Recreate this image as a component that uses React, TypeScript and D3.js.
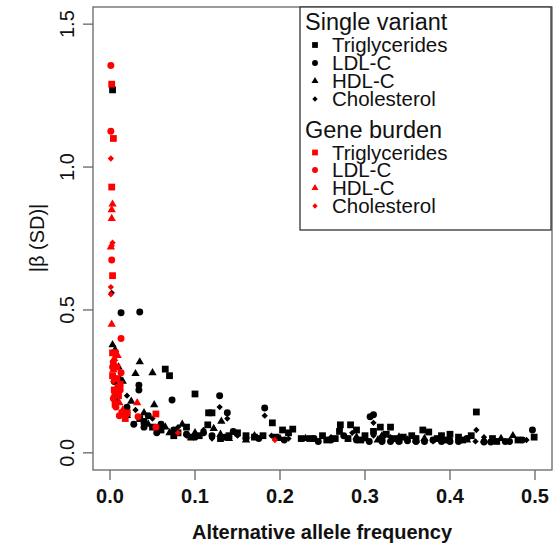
import React from "react";
import * as d3 from "d3";

// ---- data: [alternative allele frequency, |beta (SD)|] ----
const svTriglycerides: [number, number][] = [
  [0.003, 1.27], [0.065, 0.293], [0.07, 0.27], [0.1, 0.206], [0.116, 0.14], [0.12, 0.14],
  [0.115, 0.098], [0.191, 0.105], [0.203, 0.08], [0.215, 0.083], [0.271, 0.098], [0.283, 0.098],
  [0.318, 0.09], [0.33, 0.09], [0.368, 0.08], [0.375, 0.073], [0.431, 0.143], [0.499, 0.055],
  [0.04, 0.11], [0.06, 0.08], [0.08, 0.07], [0.09, 0.09], [0.14, 0.06], [0.15, 0.07],
  [0.17, 0.055], [0.25, 0.06], [0.28, 0.05], [0.3, 0.06], [0.32, 0.05], [0.34, 0.045],
  [0.36, 0.05], [0.39, 0.06], [0.41, 0.055], [0.45, 0.05], [0.48, 0.045], [0.27, 0.075],
  [0.29, 0.08], [0.225, 0.05], [0.006, 0.19], [0.02, 0.14], [0.035, 0.12], [0.18, 0.06],
  [0.21, 0.07], [0.31, 0.075], [0.325, 0.065], [0.335, 0.05], [0.4, 0.065], [0.105, 0.06],
  [0.255, 0.045], [0.265, 0.05], [0.295, 0.045], [0.345, 0.055], [0.355, 0.06], [0.385, 0.05],
  [0.395, 0.045], [0.415, 0.045], [0.425, 0.06], [0.455, 0.04], [0.13, 0.05], [0.16, 0.06],
  [0.195, 0.055], [0.235, 0.05], [0.05, 0.09], [0.075, 0.06], [0.095, 0.055],
];
const svLDL: [number, number][] = [
  [0.013, 0.49], [0.035, 0.493], [0.034, 0.237], [0.034, 0.22], [0.073, 0.185], [0.129, 0.2],
  [0.138, 0.14], [0.182, 0.157], [0.306, 0.126], [0.31, 0.133], [0.497, 0.08], [0.44, 0.038],
  [0.448, 0.038], [0.06, 0.1], [0.09, 0.065], [0.12, 0.06], [0.16, 0.05], [0.24, 0.05],
  [0.26, 0.045], [0.29, 0.045], [0.33, 0.04], [0.35, 0.042], [0.38, 0.045], [0.4, 0.04],
  [0.42, 0.05], [0.47, 0.04], [0.02, 0.16], [0.045, 0.13], [0.005, 0.25], [0.075, 0.08],
  [0.11, 0.07], [0.028, 0.1], [0.145, 0.075], [0.275, 0.06], [0.36, 0.04],
  [0.305, 0.04], [0.32, 0.04], [0.34, 0.04], [0.37, 0.04], [0.39, 0.04], [0.41, 0.04],
  [0.465, 0.04], [0.485, 0.045], [0.135, 0.055], [0.175, 0.05], [0.205, 0.045], [0.245, 0.04],
  [0.055, 0.07], [0.04, 0.09], [0.1, 0.055],
];
const svHDL: [number, number][] = [
  [0.003, 0.378], [0.006, 0.36], [0.035, 0.318], [0.05, 0.28], [0.03, 0.277], [0.052, 0.168],
  [0.131, 0.11], [0.474, 0.06], [0.01, 0.3], [0.015, 0.25], [0.025, 0.18], [0.04, 0.14],
  [0.065, 0.09], [0.1, 0.07], [0.13, 0.065], [0.17, 0.06], [0.2, 0.05], [0.23, 0.05],
  [0.3, 0.05], [0.34, 0.055], [0.37, 0.05], [0.42, 0.045], [0.46, 0.05], [0.008, 0.21],
  [0.085, 0.1], [0.122, 0.085], [0.315, 0.045],
  [0.29, 0.055], [0.32, 0.06], [0.36, 0.045], [0.39, 0.055], [0.44, 0.045], [0.14, 0.05],
  [0.16, 0.045], [0.07, 0.07], [0.045, 0.1], [0.02, 0.13],
];
const svCholesterol: [number, number][] = [
  [0.002, 0.56], [0.129, 0.16], [0.138, 0.12], [0.182, 0.13], [0.31, 0.105], [0.431, 0.08],
  [0.02, 0.2], [0.05, 0.12], [0.08, 0.09], [0.11, 0.08], [0.15, 0.06], [0.19, 0.06],
  [0.26, 0.055], [0.31, 0.06], [0.35, 0.05], [0.4, 0.05], [0.44, 0.055], [0.49, 0.045],
  [0.012, 0.26], [0.03, 0.15], [0.06, 0.1], [0.285, 0.07],
  [0.3, 0.05], [0.33, 0.055], [0.38, 0.04], [0.43, 0.04], [0.12, 0.05], [0.21, 0.05], [0.09, 0.06],
];

const gbTriglycerides: [number, number][] = [
  [0.002, 1.29], [0.004, 1.1], [0.002, 0.93], [0.003, 0.62], [0.003, 0.35], [0.006, 0.35],
  [0.004, 0.31], [0.008, 0.26], [0.005, 0.22], [0.01, 0.2], [0.006, 0.17], [0.014, 0.14],
  [0.018, 0.12], [0.054, 0.136], [0.008, 0.3], [0.012, 0.24], [0.003, 0.27], [0.02, 0.14],
];
const gbLDL: [number, number][] = [
  [0.001, 1.355], [0.001, 1.125], [0.002, 0.675], [0.013, 0.4], [0.003, 0.3], [0.005, 0.26],
  [0.009, 0.23], [0.004, 0.19], [0.013, 0.28], [0.033, 0.126], [0.054, 0.09], [0.007, 0.16],
  [0.011, 0.13], [0.012, 0.22],
];
const gbHDL: [number, number][] = [
  [0.003, 0.87], [0.002, 0.85], [0.002, 0.82], [0.001, 0.72], [0.002, 0.45], [0.005, 0.33],
  [0.011, 0.175], [0.032, 0.175], [0.006, 0.21], [0.004, 0.29], [0.015, 0.15], [0.009, 0.34],
];
const gbCholesterol: [number, number][] = [
  [0.001, 1.03], [0.003, 0.735], [0.002, 0.725], [0.001, 0.58], [0.001, 0.555], [0.004, 0.25],
  [0.007, 0.3], [0.08, 0.07], [0.194, 0.045], [0.006, 0.18], [0.012, 0.22], [0.003, 0.32],
];

const xTicks = [0, 0.1, 0.2, 0.3, 0.4, 0.5];
const yTicks = [0, 0.5, 1.0, 1.5];
const legendGroups = ["Single variant", "Gene burden"];
const traitNames = ["Triglycerides", "LDL-C", "HDL-C", "Cholesterol"];

type Shape = "square" | "circle" | "triangle" | "diamond";
const shapes: Shape[] = ["square", "circle", "triangle", "diamond"];

function symbolPath(shape: Shape, scale: number): string {
  if (shape === "square") return d3.symbol(d3.symbolSquare, 46 * scale * scale)()!;
  if (shape === "circle") return d3.symbol(d3.symbolCircle, 38 * scale * scale)()!;
  if (shape === "triangle") return d3.symbol(d3.symbolTriangle, 30 * scale * scale)()!;
  return d3.symbol(d3.symbolSquare, 20 * scale * scale)()!;
}

export default function App() {
  const x = d3.scaleLinear().domain([-0.02, 0.52]).range([93, 552]);
  const y = d3.scaleLinear().domain([-0.06, 1.56]).range([470, 7]);

  const black = [svTriglycerides, svLDL, svHDL, svCholesterol];
  const red = [gbTriglycerides, gbLDL, gbHDL, gbCholesterol];

  const renderSeries = (data: [number, number][], shape: Shape, color: string, key: string) =>
    data.map((d, i) => (
      <path
        key={key + i}
        d={symbolPath(shape, 1)}
        fill={color}
        transform={`translate(${x(d[0])},${y(d[1])})${shape === "diamond" ? " rotate(45)" : ""}`}
      />
    ));

  const legendBaselines = [[52, 70, 88, 106], [159.5, 177, 195, 213]];
  const legendTitleBaselines = [29.5, 138];

  return (
    <svg
      width={559}
      height={544}
      style={{ position: "absolute", left: 0, top: 0, background: "#fff" }}
      fontFamily="'Liberation Sans', Arial, sans-serif"
    >
      <rect x={0} y={0} width={559} height={544} fill="#fff" />
      {black.map((s, k) => renderSeries(s, shapes[k], "#000", "b" + k))}
      {red.map((s, k) => renderSeries(s, shapes[k], "#ff0000", "r" + k))}

      <rect x={93} y={7} width={459} height={463} fill="none" stroke="#666" strokeWidth={1.3} />

      {xTicks.map((t) => (
        <g key={"xt" + t}>
          <line x1={x(t)} x2={x(t)} y1={470} y2={480} stroke="#666" strokeWidth={1.3} />
          <text x={x(t)} y={503} textAnchor="middle" fontSize={20} fontWeight="bold" fill="#111">
            {t.toFixed(1)}
          </text>
        </g>
      ))}
      {yTicks.map((t) => (
        <g key={"yt" + t}>
          <line x1={83} x2={93} y1={y(t)} y2={y(t)} stroke="#666" strokeWidth={1.3} />
          <text
            transform={`translate(74,${y(t)}) rotate(-90)`}
            textAnchor="middle"
            fontSize={20}
            fill="#111"
          >
            {t.toFixed(1)}
          </text>
        </g>
      ))}
      <text x={322} y={539} textAnchor="middle" fontSize={20} fontWeight="bold" fill="#111">
        Alternative allele frequency
      </text>
      <text transform="translate(44,238) rotate(-90)" textAnchor="middle" fontSize={20} fill="#111">
        |β (SD)|
      </text>

      <rect x={300} y={7} width={251} height={223} fill="#fff" stroke="#333" strokeWidth={1.3} />
      {legendGroups.map((g, gi) => (
        <g key={"lg" + g}>
          <text x={305} y={legendTitleBaselines[gi]} fontSize={23.5} fill="#111">
            {g}
          </text>
          {traitNames.map((n, ti) => (
            <g key={"li" + n}>
              <path
                d={symbolPath(shapes[ti], 0.85)}
                fill={gi === 0 ? "#000" : "#ff0000"}
                transform={`translate(315,${legendBaselines[gi][ti] - 7})${shapes[ti] === "diamond" ? " rotate(45)" : ""}`}
              />
              <text x={332} y={legendBaselines[gi][ti]} fontSize={20.5} fill="#111">
                {n}
              </text>
            </g>
          ))}
        </g>
      ))}
    </svg>
  );
}
